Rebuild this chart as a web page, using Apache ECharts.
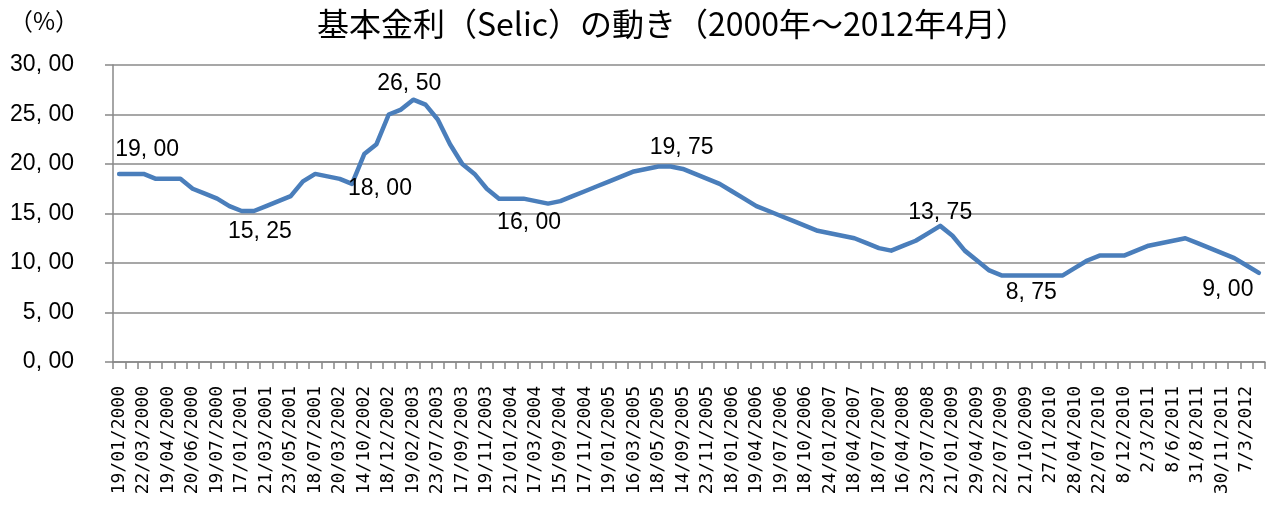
<!DOCTYPE html>
<html>
<head>
<meta charset="utf-8">
<script src="https://cdn.jsdelivr.net/npm/echarts@6/dist/echarts.min.js"></script>
<style>
  html, body { margin: 0; padding: 0; background: #fff; }
  #chart { width: 1268px; height: 509px; }
</style>
</head>
<body>
<div id="chart"></div>
<script>
// Date labels shown on the axis (every other Copom meeting)
var dateLabels = [
  '19/01/2000', '22/03/2000', '19/04/2000', '20/06/2000', '19/07/2000', '17/01/2001',
  '21/03/2001', '23/05/2001', '18/07/2001', '20/03/2002', '14/10/2002', '18/12/2002',
  '19/02/2003', '23/07/2003', '17/09/2003', '19/11/2003', '21/01/2004', '17/03/2004',
  '15/09/2004', '17/11/2004', '19/01/2005', '16/03/2005', '18/05/2005', '14/09/2005',
  '23/11/2005', '18/01/2006', '19/04/2006', '19/07/2006', '18/10/2006', '24/01/2007',
  '18/04/2007', '18/07/2007', '16/04/2008', '23/07/2008', '21/01/2009', '29/04/2009',
  '22/07/2009', '21/10/2009', '27/1/2010', '28/04/2010', '22/07/2010', '8/12/2010',
  '2/3/2011', '8/6/2011', '31/8/2011', '30/11/2011', '7/3/2012'
];

// Selic rate at each meeting (%)
var selic = [
  19.0, 19.0, 19.0, 18.5, 18.5, 18.5, 17.5, 17.0, 16.5, 15.75,
  15.25, 15.25, 15.75, 16.25, 16.75, 18.25, 19.0, 18.75, 18.5, 18.0,
  21.0, 22.0, 25.0, 25.5, 26.5, 26.0, 24.5, 22.0, 20.0, 19.0,
  17.5, 16.5, 16.5, 16.5, 16.25, 16.0, 16.25, 16.75, 17.25, 17.75,
  18.25, 18.75, 19.25, 19.5, 19.75, 19.75, 19.5, 19.0, 18.5, 18.0,
  17.25, 16.5, 15.75, 15.25, 14.75, 14.25, 13.75, 13.25, 13.0, 12.75,
  12.5, 12.0, 11.5, 11.25, 11.75, 12.25, 13.0, 13.75, 12.75, 11.25,
  10.25, 9.25, 8.75, 8.75, 8.75, 8.75, 8.75, 8.75, 9.5, 10.25,
  10.75, 10.75, 10.75, 11.25, 11.75, 12.0, 12.25, 12.5, 12.0, 11.5,
  11.0, 10.5, 9.75, 9.0
];

// annotated points: index into selic, label offset from the point
var markIdx = [0, 11, 19, 24, 35, 45, 67, 75, 93];
var markOffset = [[28, -24], [6, 21], [28, 5], [-4, -16], [-19, 19], [11, -19], [0, -13], [-7, 17], [-31, 17]];

var yTicks = [0, 5, 10, 15, 20, 25, 30];

function fmt(v) {
  return v.toFixed(2).replace('.', ', ');
}

var categories = selic.map(function (v, i) {
  return i % 2 === 0 ? dateLabels[i / 2] : '';
});

var numFont = 'Liberation Sans, Arial, sans-serif';

var chart = echarts.init(document.getElementById('chart'));
chart.setOption({
  animation: false,
  title: [
    {
      text: '基本金利（Selic）の動き（2000年～2012年4月）',
      left: 312,
      top: 3,
      textStyle: { fontFamily: 'Noto Sans CJK JP', fontSize: 32, fontWeight: 'normal', color: '#000' }
    },
    {
      text: '（%）',
      left: 4,
      top: 4,
      textStyle: { fontFamily: 'Noto Sans CJK JP', fontSize: 24, fontWeight: 'normal', color: '#000' }
    }
  ],
  grid: { left: 113, right: 3, top: 65, bottom: 147, containLabel: false },
  xAxis: {
    type: 'category',
    data: categories,
    boundaryGap: true,
    axisLine: { lineStyle: { color: '#888', width: 1.5 } },
    axisTick: { show: true, interval: 0, length: 7, lineStyle: { color: '#888', width: 1.5 } },
    axisLabel: {
      interval: 1,
      rotate: 90,
      margin: 24,
      color: '#000',
      fontFamily: 'DejaVu Sans Mono',
      fontSize: 18
    },
    splitLine: { show: false }
  },
  yAxis: {
    type: 'value',
    min: yTicks[0],
    max: yTicks[yTicks.length - 1],
    interval: 5,
    axisLine: { show: true, lineStyle: { color: '#888', width: 1.5 } },
    axisTick: { show: true, inside: false, length: 8, lineStyle: { color: '#888', width: 1.5 } },
    axisLabel: {
      margin: 39,
      color: '#000',
      fontFamily: numFont,
      fontSize: 23,
      formatter: function (v) { return fmt(v); }
    },
    splitLine: { lineStyle: { color: '#8a8a8a', width: 1.5 } }
  },
  series: [
    {
      type: 'line',
      data: selic,
      showSymbol: false,
      symbol: 'none',
      lineStyle: { color: '#4a7ebb', width: 4.5, join: 'round', cap: 'round' },
      z: 3
    },
    {
      type: 'scatter',
      symbolSize: 0,
      itemStyle: { color: '#000', opacity: 1 },
      silent: true,
      z: 4,
      data: markIdx.map(function (idx, k) {
        return {
          value: [idx, selic[idx]],
          label: {
            show: true,
            position: 'inside',
            offset: markOffset[k],
            formatter: fmt(selic[idx]),
            color: '#000',
            opacity: 1,
            textBorderWidth: 0,
            fontFamily: numFont,
            fontSize: 23
          }
        };
      })
    }
  ]
});
</script>
</body>
</html>
